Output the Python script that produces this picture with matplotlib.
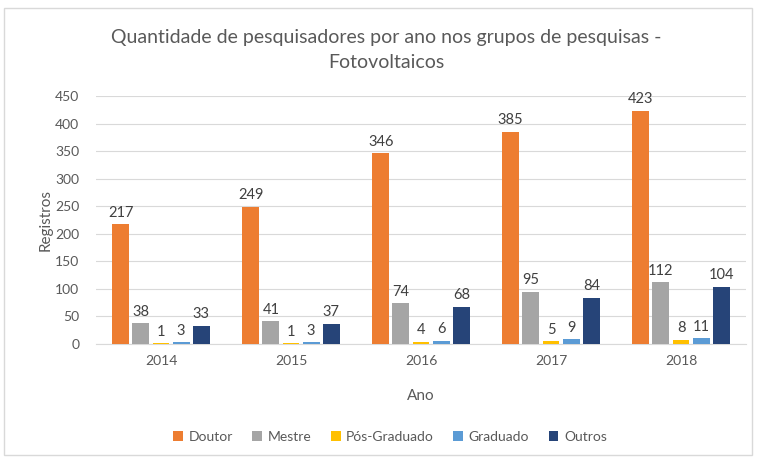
import matplotlib
matplotlib.use("Agg")
import matplotlib.pyplot as plt
import numpy as np
from matplotlib.patches import Rectangle

years = ["2014", "2015", "2016", "2017", "2018"]
series_names = ["Doutor", "Mestre", "Pós-Graduado", "Graduado", "Outros"]
doutor = [217, 249, 346, 385, 423]
mestre = [38, 41, 74, 95, 112]
pos_graduado = [1, 1, 4, 5, 8]
graduado = [3, 3, 6, 9, 11]
outros = [33, 37, 68, 84, 104]
colors = ["#ED7D31", "#A5A5A5", "#FFC000", "#5B9BD5", "#264478"]

plt.rcParams['font.family'] = ['Lato', 'DejaVu Sans']
txt = "#595959"

fig = plt.figure(figsize=(7.58, 4.59), dpi=100)
fig.patches.append(Rectangle((4/758, 4/459), 748/758, 447/459, transform=fig.transFigure,
                             fill=False, edgecolor="#D9D9D9", linewidth=1))
ax = fig.add_axes([96/758, (459-344)/459, 650/758, (344-96)/459])

data = [doutor, mestre, pos_graduado, graduado, outros]
x = np.arange(len(years))
step = 0.155
width = 0.13
for i, (name, vals, c) in enumerate(zip(series_names, data, colors)):
    pos = x + (i - 2) * step
    ax.bar(pos, vals, width=width, color=c, label=name, zorder=3)
    for p, v in zip(pos, vals):
        ax.text(p, v + 8, str(v), ha="center", va="bottom", fontsize=10.5, color="#404040")

ax.set_xlim(-0.5, 4.5)
ax.set_ylim(0, 450)
ax.set_yticks(range(0, 451, 50))
ax.set_xticks(x)
ax.set_xticklabels(years)
ax.grid(axis="y", color="#D9D9D9", linewidth=0.8, zorder=0)
for s in ["top", "right", "left"]:
    ax.spines[s].set_visible(False)
ax.spines["bottom"].set_color("#D9D9D9")
ax.tick_params(axis="both", length=0, colors=txt, labelsize=10)
ax.tick_params(axis="y", pad=12)
ax.tick_params(axis="x", pad=8)
ax.set_xlabel("Ano", color=txt, fontsize=11, labelpad=16)
ax.set_ylabel("Registros", color=txt, fontsize=11, labelpad=2)

fig.text(386/758, 1 - 37/459, "Quantidade de pesquisadores por ano nos grupos de pesquisas -",
         ha="center", va="center", fontsize=14, color=txt)
fig.text(386/758, 1 - 63/459, "Fotovoltaicos", ha="center", va="center", fontsize=14, color=txt)

leg = fig.legend(loc="center", bbox_to_anchor=(390/758, 1 - 437/459), ncol=5, frameon=False,
                 fontsize=10, handlelength=0.7, handleheight=0.7, columnspacing=1.4,
                 handletextpad=0.4)
for t in leg.get_texts():
    t.set_color(txt)

fig.savefig("out.png", dpi=100)
